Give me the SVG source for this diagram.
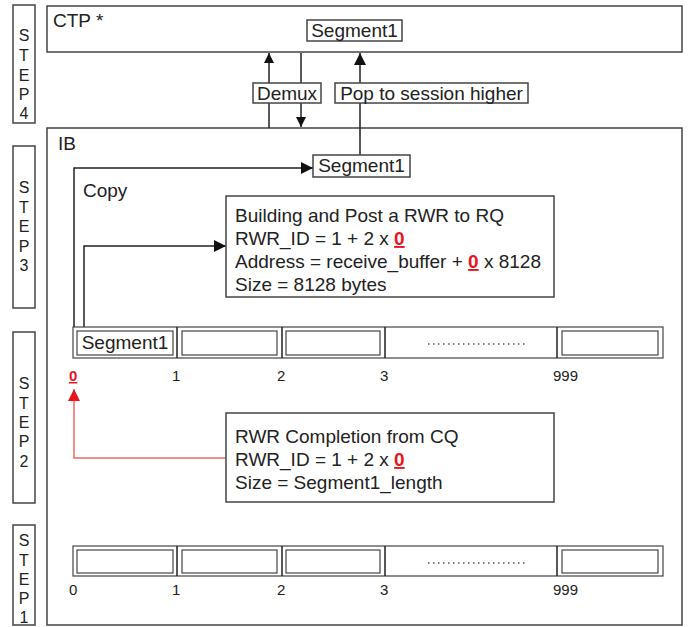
<svg xmlns="http://www.w3.org/2000/svg" width="697" height="627" viewBox="0 0 697 627">
<defs>
<marker id="ah" viewBox="0 0 10 10" refX="10" refY="5" markerWidth="10" markerHeight="11" markerUnits="userSpaceOnUse" orient="auto"><path d="M0,0 L10,5 L0,10 z" fill="#111"/></marker>
<marker id="ahb" viewBox="0 0 10 10" refX="10" refY="5" markerWidth="15" markerHeight="12" markerUnits="userSpaceOnUse" orient="auto"><path d="M0,0 L10,5 L0,10 z" fill="#111"/></marker>
<marker id="ahr" viewBox="0 0 10 10" refX="10" refY="5" markerWidth="15" markerHeight="12" markerUnits="userSpaceOnUse" orient="auto"><path d="M0,0 L10,5 L0,10 z" fill="#e8141e"/></marker>
<style>
.box{fill:#fff;stroke:#444;stroke-width:1.5}
.thin{fill:#fff;stroke:#444;stroke-width:1.2}
.t{font-family:"Liberation Sans",Arial,sans-serif;font-size:19px;fill:#222}
.s{font-family:"Liberation Sans",Arial,sans-serif;font-size:16px;fill:#222;text-anchor:middle}
.n{font-family:"Liberation Sans",Arial,sans-serif;font-size:15px;fill:#222}
.r{fill:#e8141e;font-weight:bold;text-decoration:underline}
.ln{fill:none;stroke:#222;stroke-width:1.5}
.lnr{fill:none;stroke:#f06a6a;stroke-width:1.5}
.dot{stroke:#555;stroke-width:1.5;stroke-dasharray:1.5 3.5}
</style>
</defs>

<g id="step4"><rect class="box" x="13" y="5" width="22" height="118"/>
<text class="s" x="24" y="41">S</text><text class="s" x="24" y="61">T</text><text class="s" x="24" y="81">E</text><text class="s" x="24" y="100">P</text><text class="s" x="24" y="119">4</text></g>
<g id="step3"><rect class="box" x="13" y="146" width="22" height="162"/>
<text class="s" x="24" y="193">S</text><text class="s" x="24" y="213">T</text><text class="s" x="24" y="232">E</text><text class="s" x="24" y="252">P</text><text class="s" x="24" y="271">3</text></g>
<g id="step2"><rect class="box" x="13" y="332" width="22" height="171"/>
<text class="s" x="24" y="389">S</text><text class="s" x="24" y="409">T</text><text class="s" x="24" y="428">E</text><text class="s" x="24" y="447">P</text><text class="s" x="24" y="467">2</text></g>
<g id="step1"><rect class="box" x="13" y="525" width="22" height="100"/>
<text class="s" x="24" y="546">S</text><text class="s" x="24" y="566">T</text><text class="s" x="24" y="585">E</text><text class="s" x="24" y="604">P</text><text class="s" x="24" y="623">1</text></g>

<g id="ctp"><rect class="box" x="47" y="6" width="635" height="46"/>
<text class="t" x="53" y="27">CTP *</text></g>
<g id="ib"><rect class="box" x="47" y="128" width="635" height="497"/>
<text class="t" x="58" y="150">IB</text>
<text class="t" x="83" y="197">Copy</text></g>

<g id="connectors">
<path class="ln" d="M269,128 V53" marker-end="url(#ah)"/>
<path class="ln" d="M301,53 V127" marker-end="url(#ah)"/>
<path class="ln" d="M360,155 V53" marker-end="url(#ahb)"/>
<path class="ln" d="M74,327 V168 H313" marker-end="url(#ahb)"/>
<path class="ln" d="M84,327 V246 H226" marker-end="url(#ahb)"/>
<path class="lnr" d="M226,458 H74 V389" marker-end="url(#ahr)"/>
</g>

<g id="seg-ctp"><rect class="box" x="307" y="20" width="95" height="21"/>
<text class="t" x="354.5" y="37" text-anchor="middle">Segment1</text></g>
<g id="demux"><rect class="box" x="253" y="83" width="68" height="20"/>
<text class="t" x="287" y="100" text-anchor="middle">Demux</text></g>
<g id="pop"><rect class="box" x="335" y="83" width="193" height="20"/>
<text class="t" x="431.5" y="100" text-anchor="middle">Pop to session higher</text></g>
<g id="seg-ib"><rect class="box" x="313" y="155" width="97" height="22"/>
<text class="t" x="361.5" y="172" text-anchor="middle">Segment1</text></g>

<g id="post"><rect class="box" x="226" y="196" width="328" height="101"/>
<text class="t" x="235" y="222">Building and Post a RWR to RQ</text>
<text class="t" x="235" y="245">RWR_ID = 1 + 2 x <tspan class="r">0</tspan></text>
<text class="t" x="235" y="268">Address = receive_buffer + <tspan class="r">0</tspan> x 8128</text>
<text class="t" x="235" y="291">Size = 8128 bytes</text></g>

<g id="completion"><rect class="box" x="226" y="413" width="328" height="89"/>
<text class="t" x="235" y="443">RWR Completion from CQ</text>
<text class="t" x="235" y="466">RWR_ID = 1 + 2 x <tspan class="r">0</tspan></text>
<text class="t" x="235" y="489">Size = Segment1_length</text></g>

<g id="buffer2">
<rect class="thin" x="73" y="327" width="590" height="31"/>
<path class="ln" d="M177,327 V358 M282,327 V358 M385,327 V358 M557,327 V358" stroke-width="1.2"/>
<rect class="thin" x="77" y="331" width="96" height="24"/>
<rect class="thin" x="182" y="331" width="95" height="24"/>
<rect class="thin" x="286" y="331" width="94" height="24"/>
<rect class="thin" x="562" y="331" width="96" height="24"/>
<text class="t" x="125" y="349" text-anchor="middle">Segment1</text>
<line class="dot" x1="428" y1="344" x2="526" y2="344"/>
<text class="n r" x="69" y="381">0</text>
<text class="n" x="172" y="381">1</text>
<text class="n" x="277" y="381">2</text>
<text class="n" x="380" y="381">3</text>
<text class="n" x="553" y="381">999</text>
</g>

<g id="buffer1">
<rect class="thin" x="73" y="546" width="590" height="30"/>
<path class="ln" d="M177,546 V576 M282,546 V576 M385,546 V576 M557,546 V576" stroke-width="1.2"/>
<rect class="thin" x="77" y="550" width="96" height="23"/>
<rect class="thin" x="182" y="550" width="95" height="23"/>
<rect class="thin" x="286" y="550" width="94" height="23"/>
<rect class="thin" x="562" y="550" width="96" height="23"/>
<line class="dot" x1="428" y1="563" x2="526" y2="563"/>
<text class="n" x="69" y="595">0</text>
<text class="n" x="172" y="595">1</text>
<text class="n" x="277" y="595">2</text>
<text class="n" x="380" y="595">3</text>
<text class="n" x="553" y="595">999</text>
</g>
</svg>
